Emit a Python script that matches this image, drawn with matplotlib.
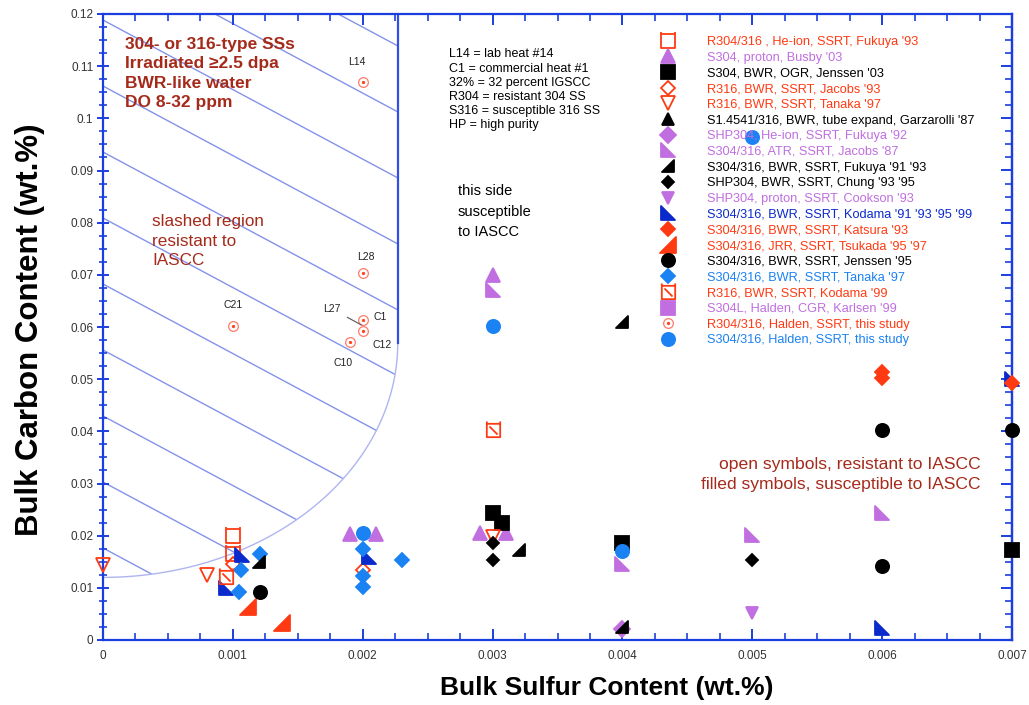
import numpy as np
import matplotlib
matplotlib.use("Agg")
import matplotlib.pyplot as plt
from matplotlib.path import Path
from matplotlib.patches import PathPatch
from matplotlib.legend_handler import HandlerTuple
from matplotlib.ticker import MultipleLocator

plt.rcParams['font.family'] = ['Liberation Sans', 'DejaVu Sans']

# ---------------- data: bulk sulfur (wt.%) vs bulk carbon (wt.%) ----------------
fukuya93_S = [0.001, 0.001]
fukuya93_C = [0.020, 0.0165]
busby03_S = [0.003, 0.0019, 0.0021, 0.0029, 0.0031]
busby03_C = [0.070, 0.0203, 0.0203, 0.0205, 0.0205]
jenssen03_S = [0.003, 0.00307, 0.004, 0.007]
jenssen03_C = [0.0243, 0.0225, 0.0185, 0.0172]
jacobs93_S = [0.001, 0.002]
jacobs93_C = [0.0145, 0.0135]
tanakaR_S = [0.0, 0.0008, 0.003]
tanakaR_C = [0.0143, 0.0125, 0.0198]
garzarolli_S = []
garzarolli_C = []
fukuya92_S = [0.004]
fukuya92_C = [0.0022]
jacobs87_S = [0.003, 0.004, 0.005, 0.006]
jacobs87_C = [0.067, 0.0145, 0.0201, 0.0243]
fukuya9193_S = [0.004, 0.0032, 0.0012, 0.004]
fukuya9193_C = [0.061, 0.0172, 0.015, 0.0025]
chung_S = [0.003, 0.003, 0.005]
chung_C = [0.0186, 0.0153, 0.0153]
cookson_S = [0.005]
cookson_C = [0.0052]
kodama_S = [0.00107, 0.00095, 0.00205, 0.006, 0.007]
kodama_C = [0.0163, 0.0100, 0.0159, 0.0023, 0.050]
katsura_S = [0.006, 0.006, 0.007]
katsura_C = [0.0514, 0.0502, 0.0493]
tsukada_S = [0.00112, 0.00138]
tsukada_C = [0.0063, 0.0032]
jenssen95_S = [0.00121, 0.006, 0.006, 0.007]
jenssen95_C = [0.0092, 0.0403, 0.0142, 0.0403]
tanakaS_S = [0.00121, 0.00106, 0.00105, 0.002, 0.002, 0.002, 0.0023]
tanakaS_C = [0.0165, 0.0134, 0.0092, 0.0174, 0.0123, 0.0102, 0.0153]
kodama99_S = [0.003, 0.00095]
kodama99_C = [0.0403, 0.0121]
karlsen_S = []
karlsen_C = []
haldenR_S = [0.002, 0.002, 0.001, 0.002, 0.002, 0.0019]
haldenR_C = [0.107, 0.0703, 0.0602, 0.0613, 0.0592, 0.0571]
haldenR_lab = ['L14', 'L28', 'C21', 'C1', 'C12', 'C10']
haldenS_S = [0.003, 0.002, 0.004, 0.005]
haldenS_C = [0.0602, 0.0205, 0.0170, 0.0964]

# boundary of the resistant (slashed) region
region_S_edge = 0.00227
region_C_center = 0.057
region_C_floor = 0.012

x_ticks = [0, 0.001, 0.002, 0.003, 0.004, 0.005, 0.006, 0.007]
x_tick_labels = ['0', '0.001', '0.002', '0.003', '0.004', '0.005', '0.006', '0.007']
y_ticks = [0, 0.01, 0.02, 0.03, 0.04, 0.05, 0.06, 0.07, 0.08, 0.09, 0.1, 0.11, 0.12]
y_tick_labels = ['0', '0.01', '0.02', '0.03', '0.04', '0.05', '0.06', '0.07',
                 '0.08', '0.09', '0.1', '0.11', '0.12']

# ---------------- colours ----------------
RED = '#ff3a12'
PINK = '#ff7b6b'
PURPLE = '#c06ee0'
BLACK = '#000000'
DBLUE = '#0a2acc'
LBLUE = '#1a82f2'
NOTE = '#a52a1a'
AXBLUE = '#1b3ee0'

# ---------------- custom markers ----------------
M, L, C = Path.MOVETO, Path.LINETO, Path.CLOSEPOLY
tri_left = Path([(-1, 1), (-1, -1), (1, -1), (-1, 1)], [M, L, L, C])
tri_right = Path([(1, 1), (1, -1), (-1, -1), (1, 1)], [M, L, L, C])
eared_sq = Path([(-1, 1.35), (-1, -1), (1, -1), (1, 1.35), (-1, 1), (1, 1)],
                [M, L, L, L, M, L])
slash_sq = Path([(-1, 1.35), (-1, -1), (1, -1), (1, 1.35), (-1, 1), (1, 1),
                 (-0.6, 0.6), (0.6, -0.6)],
                [M, L, L, L, M, L, M, L])

fig = plt.figure(figsize=(10.29, 7.05), dpi=100)
ax = fig.add_axes([103 / 1029, 65 / 705, 909 / 1029, 626 / 705])
ax.set_xlim(0, 0.007)
ax.set_ylim(0, 0.12)

# ---------------- slashed region ----------------
t = np.linspace(0, -np.pi / 2, 80)
ell_x = region_S_edge * np.cos(t)
ell_y = region_C_center + (region_C_center - region_C_floor) * np.sin(t)
verts = [(0, 0.12), (region_S_edge, 0.12)] + list(zip(ell_x, ell_y)) + [(0, 0.12)]
codes = [M] + [L] * (len(verts) - 2) + [C]
region = PathPatch(Path(verts, codes), transform=ax.transData,
                   facecolor='none', edgecolor='none')
ax.add_patch(region)
slope = -13.33
xs = np.array([0, region_S_edge])
for k in range(-3, 10):
    c0 = (640 - (20 + 66 * k)) / 5217.0
    ln, = ax.plot(xs, c0 + slope * xs, color='#8393ea', lw=1.0, zorder=1)
    ln.set_clip_path(region)
ax.plot(ell_x, ell_y, color='#aeb5f2', lw=1.0, zorder=1)
ax.plot([region_S_edge, region_S_edge], [region_C_center, 0.12], color='#3350e6',
        lw=1.6, zorder=1)

# ---------------- series ----------------
def series(x, y, marker, color, ms, filled=True, mew=1.3, z=3):
    kw = dict(linestyle='none', marker=marker, markersize=ms, zorder=z,
              markeredgecolor=color, markeredgewidth=mew, clip_on=False)
    kw['markerfacecolor'] = color if filled else 'none'
    h, = ax.plot(x, y, **kw)
    return h

h_fuk93 = series(fukuya93_S, fukuya93_C, eared_sq, RED, 13, filled=False)
h_busby = series(busby03_S, busby03_C, '^', PURPLE, 9.5)
h_jen03 = series(jenssen03_S, jenssen03_C, 's', BLACK, 9.5)
h_jac93 = series(jacobs93_S, jacobs93_C, 'D', RED, 7.5, filled=False)
h_tanR = series(tanakaR_S, tanakaR_C, 'v', RED, 10, filled=False)
h_garz = series(garzarolli_S, garzarolli_C, '^', BLACK, 8)
h_fuk92 = series(fukuya92_S, fukuya92_C, 'D', PURPLE, 8)
h_jac87 = series(jacobs87_S, jacobs87_C, tri_left, PURPLE, 10)
h_fuk9193 = series(fukuya9193_S, fukuya9193_C, tri_right, BLACK, 8.5, z=4)
h_chung = series(chung_S, chung_C, 'D', BLACK, 6.5)
h_cook = series(cookson_S, cookson_C, 'v', PURPLE, 9)
h_kod = series(kodama_S, kodama_C, tri_left, DBLUE, 10)
h_kats = series(katsura_S, katsura_C, 'D', RED, 7.5, z=4)
h_tsuk = series(tsukada_S, tsukada_C, tri_right, RED, 11)
h_jen95 = series(jenssen95_S, jenssen95_C, 'o', BLACK, 9.5)
h_tanS = series(tanakaS_S, tanakaS_C, 'D', LBLUE, 7.5)
h_kod99 = series(kodama99_S, kodama99_C, slash_sq, RED, 13, filled=False)
h_karl = series(karlsen_S, karlsen_C, 's', PURPLE, 9.5)
h_halR_o = series(haldenR_S, haldenR_C, 'o', PINK, 7, filled=False, mew=0.9)
h_halR_d = series(haldenR_S, haldenR_C, 'o', RED, 1.8, mew=0.5)
h_halS = series(haldenS_S, haldenS_C, 'o', LBLUE, 9.5, z=5)

# sample labels for this study
lab_off = {'L14': (-4, 14, 'center'), 'L28': (2, 12, 'center'), 'C21': (0, 15, 'center'),
           'C1': (8, 2, 'left'), 'C12': (7, -10, 'left'), 'C10': (-5, -15, 'center')}
for s, c, lab in zip(haldenR_S, haldenR_C, haldenR_lab):
    dx, dy, ha = lab_off[lab]
    ax.annotate(lab, (s, c), xytext=(dx, dy), textcoords='offset points',
                ha=ha, va='center', fontsize=7.5, color='#222222', zorder=6)
ax.annotate('L27', (haldenR_S[3], (haldenR_C[3] + haldenR_C[4]) / 2),
            xytext=(-22, 12), textcoords='offset points', ha='center', va='center',
            fontsize=7.5, color='#222222',
            arrowprops=dict(arrowstyle='-', color='#555555', lw=0.8,
                            shrinkA=3, shrinkB=1))

# ---------------- notes ----------------
ax.text(0.0242, 0.964, '304- or 316-type SSs\nIrradiated \u22652.5 dpa\nBWR-like water\nDO 8-32 ppm',
        transform=ax.transAxes, ha='left', va='top', fontsize=12.5, fontweight='bold',
        color=NOTE, linespacing=1.38, zorder=6)
ax.text(0.054, 0.680, 'slashed region\nresistant to\nIASCC', transform=ax.transAxes,
        ha='left', va='top', fontsize=12.3, color=NOTE, linespacing=1.36, zorder=6)
ax.text(0.3905, 0.728, 'this side\nsusceptible\nto IASCC', transform=ax.transAxes,
        ha='left', va='top', fontsize=10.5, color=BLACK, linespacing=1.6, zorder=6)
ax.text(0.3806, 0.945, 'L14 = lab heat #14\nC1 = commercial heat #1\n32% = 32 percent IGSCC\n'
        'R304 = resistant 304 SS\nS316 = susceptible 316 SS\nHP = high purity',
        transform=ax.transAxes, ha='left', va='top', fontsize=9, color=BLACK,
        linespacing=1.23, zorder=6)
ax.text(0.966, 0.292, 'open symbols, resistant to IASCC\nfilled symbols, susceptible to IASCC',
        transform=ax.transAxes, ha='right', va='top', multialignment='right',
        fontsize=12.6, color=NOTE, linespacing=1.4, zorder=6)

# ---------------- legend ----------------
handles = [h_fuk93, h_busby, h_jen03, h_jac93, h_tanR, h_garz, h_fuk92, h_jac87,
           h_fuk9193, h_chung, h_cook, h_kod, h_kats, h_tsuk, h_jen95, h_tanS,
           h_kod99, h_karl, (h_halR_o, h_halR_d), h_halS]
labels = ["R304/316 , He-ion, SSRT, Fukuya '93",
          "S304, proton, Busby '03",
          "S304, BWR, OGR, Jenssen '03",
          "R316, BWR, SSRT, Jacobs '93",
          "R316, BWR, SSRT, Tanaka '97",
          "S1.4541/316, BWR, tube expand, Garzarolli '87",
          "SHP304, He-ion, SSRT, Fukuya '92",
          "S304/316, ATR, SSRT, Jacobs '87",
          "S304/316, BWR, SSRT, Fukuya '91 '93",
          "SHP304, BWR, SSRT, Chung '93 '95",
          "SHP304, proton, SSRT, Cookson '93",
          "S304/316, BWR, SSRT, Kodama '91 '93 '95 '99",
          "S304/316, BWR, SSRT, Katsura '93",
          "S304/316, JRR, SSRT, Tsukada '95 '97",
          "S304/316, BWR, SSRT, Jenssen '95",
          "S304/316, BWR, SSRT, Tanaka '97",
          "R316, BWR, SSRT, Kodama '99",
          "S304L, Halden, CGR, Karlsen '99",
          "R304/316, Halden, SSRT, this study",
          "S304/316, Halden, SSRT, this study"]
label_colors = [RED, PURPLE, BLACK, RED, RED, BLACK, PURPLE, PURPLE, BLACK, BLACK,
                PURPLE, DBLUE, RED, RED, BLACK, LBLUE, RED, PURPLE, RED, LBLUE]
leg = ax.legend(handles, labels, loc='upper left', bbox_to_anchor=(655.2 / 1029, 1 - 36 / 705),
                bbox_transform=fig.transFigure, frameon=False, fontsize=9.2,
                handlelength=2.0, handletextpad=2.05, labelspacing=0.29, borderpad=0,
                borderaxespad=0, numpoints=1,
                handler_map={tuple: HandlerTuple(ndivide=1, pad=0)})
for txt, col in zip(leg.get_texts(), label_colors):
    txt.set_color(col)
leg.set_zorder(7)

# ---------------- axes styling ----------------
for sp in ax.spines.values():
    sp.set_color(AXBLUE)
    sp.set_linewidth(1.6)
ax.set_xticks(x_ticks)
ax.set_xticklabels(x_tick_labels)
ax.set_yticks(y_ticks)
ax.set_yticklabels(y_tick_labels)
ax.xaxis.set_minor_locator(MultipleLocator(0.00025))
ax.yaxis.set_minor_locator(MultipleLocator(0.0025))
ax.tick_params(axis='x', which='major', direction='in', length=8, width=1.4,
               color=AXBLUE, labelsize=8.5, labelcolor='#333333', pad=7, top=True)
ax.tick_params(axis='x', which='minor', direction='in', length=5, width=1.2,
               color=AXBLUE, top=True)
ax.tick_params(axis='y', which='major', direction='inout', length=8, width=1.4,
               color=AXBLUE, labelsize=8.5, labelcolor='#333333', pad=3)
ax.tick_params(axis='y', which='minor', direction='inout', length=6, width=1.2,
               color=AXBLUE)
sec = ax.secondary_yaxis('right')
sec.set_yticks(y_ticks)
sec.yaxis.set_minor_locator(MultipleLocator(0.0025))
sec.tick_params(axis='y', which='major', direction='in', length=8, width=1.4,
                color=AXBLUE, labelright=False)
sec.tick_params(axis='y', which='minor', direction='in', length=5, width=1.2,
                color=AXBLUE)
sec.spines['right'].set_color(AXBLUE)
sec.spines['right'].set_linewidth(1.6)

ax.set_xlabel('Bulk Sulfur Content (wt.%)', fontsize=19, fontweight='bold')
ax.xaxis.set_label_coords((607 - 103) / 909, -0.058)
ax.set_ylabel('Bulk Carbon Content (wt.%)', fontsize=22.5, fontweight='bold')
ax.yaxis.set_label_coords((45 - 103) / 909, 0.495)

fig.savefig('out.png', dpi=100)
